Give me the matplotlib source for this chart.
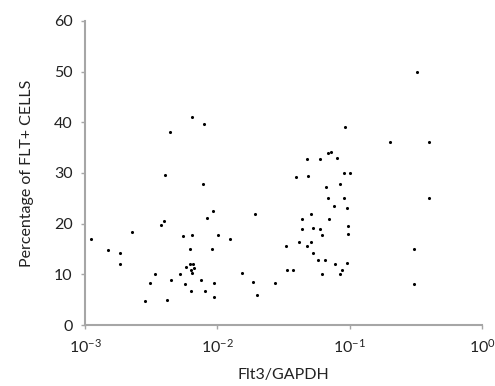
import matplotlib
matplotlib.use('Agg')
import matplotlib.pyplot as plt

# Flt3/GAPDH ratio vs percentage of FLT+ cells
flt3_gapdh = [
    0.00111, 0.00148, 0.00183, 0.00183, 0.00225, 0.00286, 0.00312, 0.00337,
    0.00378, 0.00396, 0.00400, 0.00415, 0.00437, 0.00449, 0.00520, 0.00550,
    0.00566, 0.00579, 0.00618, 0.00621, 0.00631, 0.00633, 0.00643, 0.00647,
    0.00647, 0.00651, 0.00662, 0.00748, 0.00780, 0.00794, 0.00803, 0.00830,
    0.00910, 0.00924, 0.00936, 0.00940, 0.01007,
    0.01256, 0.01529, 0.0185, 0.0193, 0.02005, 0.0273, 0.0332, 0.0334,
    0.0371, 0.0393, 0.0414, 0.0439, 0.0439, 0.0479, 0.0479, 0.0487,
    0.0513, 0.0513, 0.0525, 0.0525, 0.0579, 0.0600, 0.0600, 0.0621,
    0.0621, 0.0652, 0.0663, 0.0690, 0.0723, 0.0692, 0.0698, 0.0757,
    0.0776, 0.0804, 0.0842, 0.0845, 0.0881, 0.0902, 0.0908, 0.0927,
    0.0960, 0.0960, 0.0977, 0.0977, 0.1007,
    0.323, 0.2018, 0.401, 0.401, 0.308, 0.307,
]
pct_flt = [
    16.9, 14.8, 14.3, 12.0, 18.4, 4.8, 8.3, 10.0,
    19.8, 20.6, 29.6, 4.9, 38.1, 8.9, 10.1, 17.6,
    8.1, 11.4, 15.0, 12.1, 10.8, 6.8, 10.2, 41.0,
    17.7, 12.0, 11.3, 8.9, 27.8, 39.7, 6.7, 21.1,
    15.0, 22.5, 8.3, 5.5, 17.7,
    16.9, 10.3, 8.5, 21.9, 6.0, 8.2, 15.5, 10.8,
    10.8, 29.1, 16.4, 20.9, 18.9, 32.8, 15.6, 29.4,
    21.9, 16.4, 14.2, 19.2, 12.9, 32.8, 18.9, 17.8,
    10.0, 12.8, 27.3, 34.0, 34.1, 25.1, 20.9, 23.4,
    12.0, 32.9, 27.9, 10.0, 10.9, 30.0, 25.0, 39.0,
    23.1, 12.2, 19.6, 17.9, 30.0,
    50.0, 36.1, 36.1, 25.1, 14.9, 8.1,
]

plt.rcParams['font.family'] = ['Lato', 'DejaVu Sans']
plt.rcParams['font.size'] = 11.5

fig = plt.figure(figsize=(4.95, 3.86), dpi=100)
ax = fig.add_axes([0.1717, 0.158, 0.802, 0.788])

ax.scatter(flt3_gapdh, pct_flt, s=5, color='black', linewidths=0, zorder=3)

ax.set_xscale('log')
ax.set_xlim(1e-3, 1)
ax.set_ylim(0, 60)
ax.set_yticks(range(0, 61, 10))
ax.minorticks_off()

for s in ['top', 'right']:
    ax.spines[s].set_visible(False)
for s in ['left', 'bottom']:
    ax.spines[s].set_color('#a6a6a6')
    ax.spines[s].set_linewidth(1.5)

ax.tick_params(axis='both', direction='out', length=3, width=1,
               color='#a6a6a6', labelcolor='#222222', pad=6)

ax.set_xlabel('Flt3/GAPDH', color='#222222', labelpad=9)
ax.set_ylabel('Percentage of FLT+ CELLS', color='#222222', labelpad=14)

fig.savefig('out.png', dpi=100)
